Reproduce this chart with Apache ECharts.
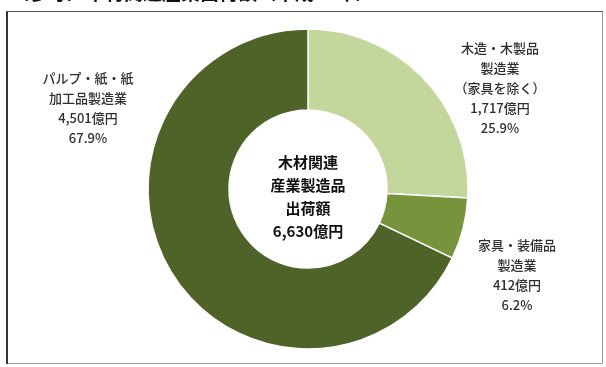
<!DOCTYPE html>
<html>
<head>
<meta charset="utf-8">
<script src="https://cdn.jsdelivr.net/npm/echarts@6/dist/echarts.min.js"></script>
<style>
  html, body { margin: 0; padding: 0; background: #ffffff; }
  #chart { width: 606px; height: 367px; }
</style>
</head>
<body>
<div id="chart"></div>
<script>
// Industry segments, clockwise from 12 o'clock
const categories = [
  '木造・木製品\n製造業\n（家具を除く）',
  '家具・装備品\n製造業',
  'パルプ・紙・紙\n加工品製造業'
];
const shipments = [1717, 412, 4501]; // 億円
const sliceColors = ['#c3d69b', '#77933c', '#4f6228'];

const total = shipments.reduce((a, b) => a + b, 0);
const fmt = n => n.toLocaleString('en-US');

// Where each segment label sits (centre of the text block)
const labelSpots = [[500, 88], [517, 275], [88, 108]];

const chart = echarts.init(document.getElementById('chart'), null, { renderer: 'canvas' });

chart.setOption({
  animation: false,
  backgroundColor: '#ffffff',
  graphic: [
    {
      type: 'text', left: 10, top: -17,
      style: {
        text: '（参考）木材関連産業出荷額（平成27年）',
        font: 'bold 19px "Noto Sans CJK JP"', fill: '#111'
      }
    },
    { type: 'rect', shape: { x: 7.5, y: 11.5, width: 595, height: 352 },
      style: { fill: 'none', stroke: '#9a9a9a', lineWidth: 1 } },
    { type: 'line', shape: { x1: 7, y1: 11, x2: 7, y2: 364 },
      style: { stroke: '#333', lineWidth: 2 } },
    { type: 'line', shape: { x1: 7, y1: 11.5, x2: 603, y2: 11.5 },
      style: { stroke: '#555', lineWidth: 1 } },
    {
      type: 'text', x: 308, y: 197,
      style: {
        text: '木材関連\n産業製造品\n出荷額\n' + fmt(total) + '億円',
        font: 'bold 15px "Noto Sans CJK JP"', fill: '#111',
        align: 'center', verticalAlign: 'middle', lineHeight: 23
      }
    }
  ],
  series: [{
    type: 'pie',
    center: [308, 189],
    radius: [79, 160],
    startAngle: 90,
    clockwise: true,
    percentPrecision: 1,
    itemStyle: { borderColor: '#ffffff', borderWidth: 1.5 },
    label: {
      show: true,
      position: 'outside',
      color: '#2e2e2e',
      fontFamily: '"Noto Sans CJK JP"',
      fontWeight: 500,
      fontSize: 13,
      lineHeight: 20,
      align: 'center',
      formatter: p => p.name + '\n' + fmt(p.value) + '億円\n' + p.percent.toFixed(1) + '%'
    },
    labelLine: { show: false },
    labelLayout: p => ({
      x: labelSpots[p.dataIndex][0],
      y: labelSpots[p.dataIndex][1],
      align: 'center',
      verticalAlign: 'middle'
    }),
    emphasis: { disabled: true },
    data: categories.map((name, i) => ({
      name, value: shipments[i], itemStyle: { color: sliceColors[i] }
    }))
  }]
});
</script>
</body>
</html>
